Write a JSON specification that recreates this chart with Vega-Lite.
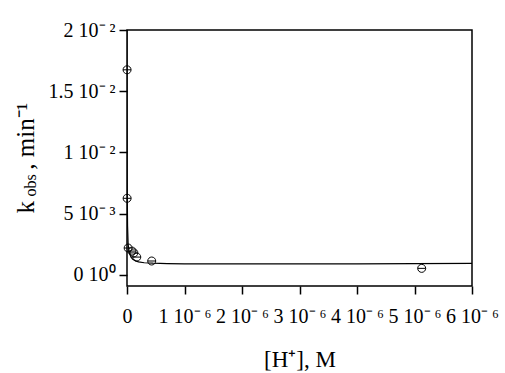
{
  "$schema": "https://vega.github.io/schema/vega-lite/v6.json",
  "autosize": "none",
  "width": 345,
  "height": 256,
  "padding": {"left": 127, "top": 30, "right": 33, "bottom": 87},
  "background": "white",
  "config": {
    "view": {"stroke": "black", "strokeWidth": 1.5},
    "font": "Liberation Serif",
    "axis": {"grid": false, "labelColor": "black", "titleColor": "black", "labelFont": "Liberation Serif", "titleFont": "Liberation Serif", "titleFontWeight": "normal", "labelFontSize": 20, "labelOverlap": false, "labelFlush": false}
  },
  "datasets": {
    "pts": [
      {"h": 0.000000001, "k": 0.01675},
      {"h": 0.000000002, "k": 0.00626},
      {"h": 0.00000002, "k": 0.0022},
      {"h": 0.000000087, "k": 0.00195},
      {"h": 0.00000012, "k": 0.0018},
      {"h": 0.00000017, "k": 0.00146},
      {"h": 0.00000043, "k": 0.00114},
      {"h": 0.000005125, "k": 0.00054}
    ],
    "fit": [
      {"h": 0, "k": 0.0215},
      {"h": 0.000000001, "k": 0.0165},
      {"h": 0.000000002, "k": 0.012},
      {"h": 0.000000004, "k": 0.0075},
      {"h": 0.000000006, "k": 0.0058},
      {"h": 0.00000001, "k": 0.004},
      {"h": 0.00000002, "k": 0.0025},
      {"h": 0.00000004, "k": 0.0018},
      {"h": 0.00000007, "k": 0.00145},
      {"h": 0.0000001, "k": 0.00128},
      {"h": 0.00000015, "k": 0.00115},
      {"h": 0.0000002, "k": 0.00107},
      {"h": 0.0000003, "k": 0.001},
      {"h": 0.00000045, "k": 0.00096},
      {"h": 0.0000007, "k": 0.00093},
      {"h": 0.000001, "k": 0.00091},
      {"h": 0.000002, "k": 0.0009},
      {"h": 0.000003, "k": 0.0009},
      {"h": 0.000004, "k": 0.00091},
      {"h": 0.000005, "k": 0.00093},
      {"h": 0.000006, "k": 0.00095}
    ]
  },
  "resolve": {"axis": {"x": "independent"}},
  "layer": [
    {"data": {"name": "fit"},
     "mark": {"type": "line", "color": "black", "strokeWidth": 1.2, "clip": true},
     "encoding": {
       "x": {"field": "h", "type": "quantitative",
         "scale": {"domain": [0, 0.000006], "nice": false, "zero": false},
         "axis": {"orient": "bottom", "values": [0, 0.000001, 0.000002, 0.000003, 0.000004, 0.000005, 0.000006],
           "domain": false, "ticks": true, "tickSize": 8, "tickColor": "black", "tickWidth": 1.5,
           "labelExpr": "datum.value == 0 ? '0' : round(datum.value * 1e6) + ' 10⁻\u2009⁶'",
           "labelPadding": 12, "title": "[H⁺], M", "titleFontSize": 23, "titlePadding": 22}},
       "y": {"field": "k", "type": "quantitative",
         "scale": {"domain": [-0.0009, 0.02], "nice": false, "zero": false},
         "axis": {"values": [0, 0.005, 0.01, 0.015, 0.02],
           "domain": false, "ticks": true, "tickSize": 8, "tickColor": "black", "tickWidth": 1.5,
           "labelExpr": "datum.value == 0 ? '0 10⁰' : datum.value == 0.005 ? '5 10⁻\u2009³' : datum.value == 0.01 ? '1 10⁻\u2009²' : datum.value == 0.015 ? '1.5 10⁻\u2009²' : '2 10⁻\u2009²'",
           "labelPadding": 4, "title": "k\u00a0\u00a0\u00a0\u00a0\u00a0, min⁻¹", "titleFontSize": 25,
           "titleAngle": -90, "titleAlign": "left", "titleBaseline": "alphabetic", "titleX": -94, "titleY": 183}}
     }},
    {"data": {"name": "pts"},
     "mark": {"type": "point", "shape": "M-1,0A1,1 0 1,1 1,0A1,1 0 1,1 -1,0M-1,0L1,0", "size": 64, "filled": false, "stroke": "black", "strokeWidth": 1, "opacity": 1},
     "encoding": {
       "x": {"field": "h", "type": "quantitative",
         "scale": {"domain": [0, 0.000006], "nice": false, "zero": false},
         "axis": {"orient": "top", "labels": false, "ticks": false, "domain": false, "title": "obs", "titleFontSize": 16,
           "titleAngle": -90, "titleAlign": "left", "titleBaseline": "alphabetic", "titleX": -92, "titleY": 166}},
       "y": {"field": "k", "type": "quantitative"}
     }}
  ]
}
